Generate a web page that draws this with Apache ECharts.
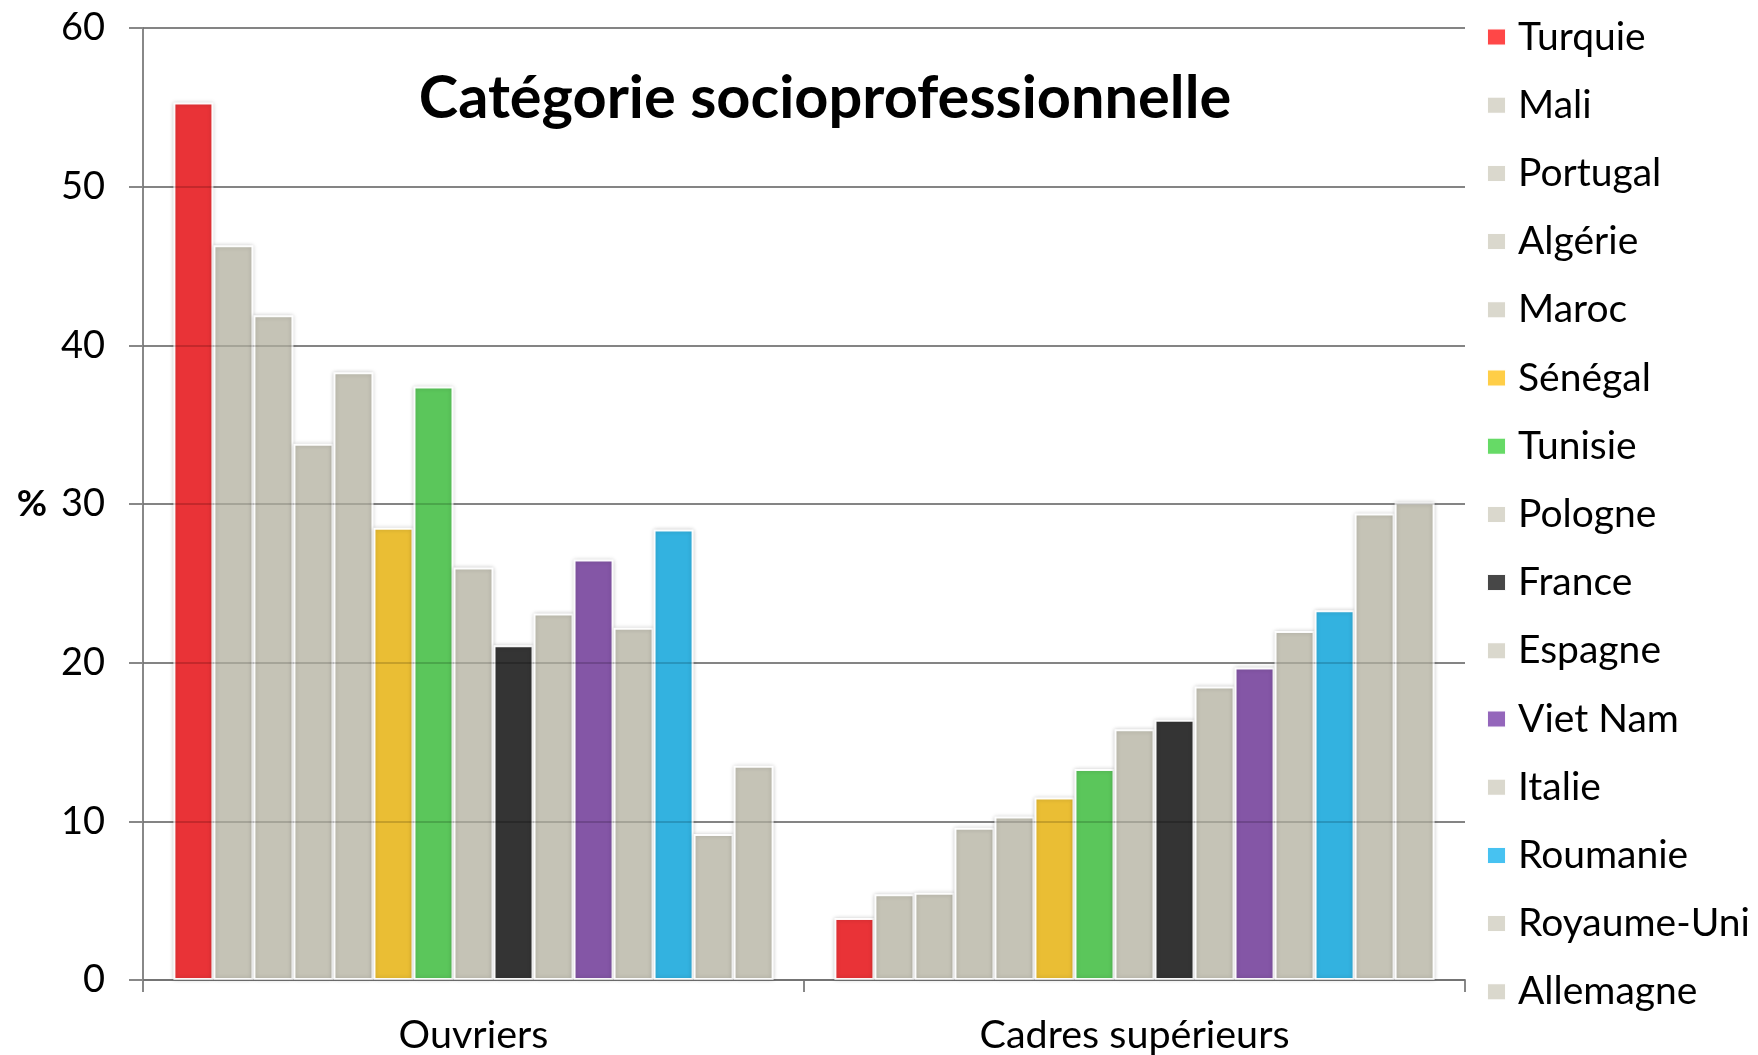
<!DOCTYPE html>
<html>
<head>
<meta charset="utf-8">
<script src="https://cdn.jsdelivr.net/npm/echarts@6/dist/echarts.min.js"></script>
<style>
  html, body { margin: 0; padding: 0; background: #fff; }
  #chart { width: 1758px; height: 1055px; }
</style>
</head>
<body>
<div id="chart"></div>
<script>
// Catégories socioprofessionnelles (axe des x)
const categories = ['Ouvriers', 'Cadres supérieurs'];

// Pays (une série par pays)
const countries = ['Turquie', 'Mali', 'Portugal', 'Algérie', 'Maroc', 'Sénégal', 'Tunisie',
  'Pologne', 'France', 'Espagne', 'Viet Nam', 'Italie', 'Roumanie', 'Royaume-Uni', 'Allemagne'];

// Part (%) par pays
const ouvriers = [55.3, 46.3, 41.9, 33.8, 38.3, 28.5, 37.4, 26.0, 21.1, 23.1, 26.5, 22.2, 28.4, 9.2, 13.5];
const cadres   = [3.9, 5.4, 5.5, 9.6, 10.3, 11.5, 13.3, 15.8, 16.4, 18.5, 19.7, 22.0, 23.3, 29.4, 30.1];

// Graduations de l'axe des y
const yTicks = [0, 10, 20, 30, 40, 50, 60];

// Couleurs des barres et des pastilles de légende
const barColors = ['#E92C30', '#C4C2B4', '#C4C2B4', '#C4C2B4', '#C4C2B4', '#EABC2D', '#55C555',
  '#C4C2B4', '#2D2D2D', '#C4C2B4', '#8050A3', '#C4C2B4', '#2CB0E0', '#C4C2B4', '#C4C2B4'];
const legendColors = ['#FF4040', '#D8D6CB', '#D8D6CB', '#D8D6CB', '#D8D6CB', '#FFCC40', '#60D860',
  '#D8D6CB', '#404040', '#D8D6CB', '#9060B8', '#D8D6CB', '#40C0F0', '#D8D6CB', '#D8D6CB'];

const FONT = 'Lato, "Open Sans", sans-serif';

const series = countries.map((name, i) => ({
  name: name,
  type: 'bar',
  barGap: '0%',
  barCategoryGap: '9.2%',
  itemStyle: {
    color: barColors[i],
    borderColor: '#ffffff',
    borderWidth: 2,
    shadowBlur: 4,
    shadowColor: 'rgba(0,0,0,0.18)',
    opacity: 0.96
  },
  data: [ouvriers[i], cadres[i]]
}));

const chart = echarts.init(document.getElementById('chart'), null, { renderer: 'canvas' });
chart.setOption({
  animation: false,
  backgroundColor: '#ffffff',
  title: {
    text: 'Catégorie socioprofessionnelle',
    left: 820,
    top: 64,
    textAlign: 'center',
    textStyle: { fontFamily: FONT, fontWeight: 'bold', fontSize: 59.5, color: '#000' }
  },
  legend: {
    orient: 'vertical',
    left: 1486,
    top: 17,
    padding: 0,
    itemWidth: 19,
    itemHeight: 17,
    itemGap: 28.2,
    icon: 'rect',
    textStyle: { fontFamily: FONT, fontSize: 39, color: '#000', lineHeight: 40, padding: [0, 0, 0, 7] },
    data: countries.map((name, i) => ({ name: name, itemStyle: { color: legendColors[i] } }))
  },
  grid: { left: 143, right: 293, top: 28, bottom: 74, containLabel: false },
  xAxis: {
    type: 'category',
    data: categories,
    axisLine: { lineStyle: { color: '#888', width: 2 } },
    axisTick: { show: true, length: 12, lineStyle: { color: '#888', width: 2 } },
    axisLabel: { fontFamily: FONT, fontSize: 39.5, color: '#000', margin: 35 }
  },
  yAxis: [{
    type: 'value',
    min: 0,
    max: 60,
    interval: 10,
    name: '%',
    nameLocation: 'middle',
    nameRotate: 0,
    nameGap: 96,
    nameTextStyle: { fontFamily: FONT, fontWeight: 'bold', fontSize: 37, color: '#000' },
    axisLine: { show: true, lineStyle: { color: '#888', width: 2 } },
    axisTick: { show: true, length: 14, lineStyle: { color: '#888', width: 2 } },
    axisLabel: {
      fontFamily: FONT, fontSize: 38, color: '#000', margin: 38,
      formatter: v => (yTicks.includes(v) ? String(v) : '')
    },
    splitLine: { show: true, lineStyle: { color: '#9a9a9a', width: 2 } }
  }, {
    // lignes de quadrillage légèrement visibles au-dessus des barres
    type: 'value',
    min: 0,
    max: 60,
    interval: 10,
    position: 'left',
    z: 5,
    axisLine: { show: false },
    axisTick: { show: false },
    axisLabel: { show: false },
    splitLine: { show: true, lineStyle: { color: 'rgba(0,0,0,0.14)', width: 2 } }
  }],
  series: series
});
</script>
</body>
</html>
